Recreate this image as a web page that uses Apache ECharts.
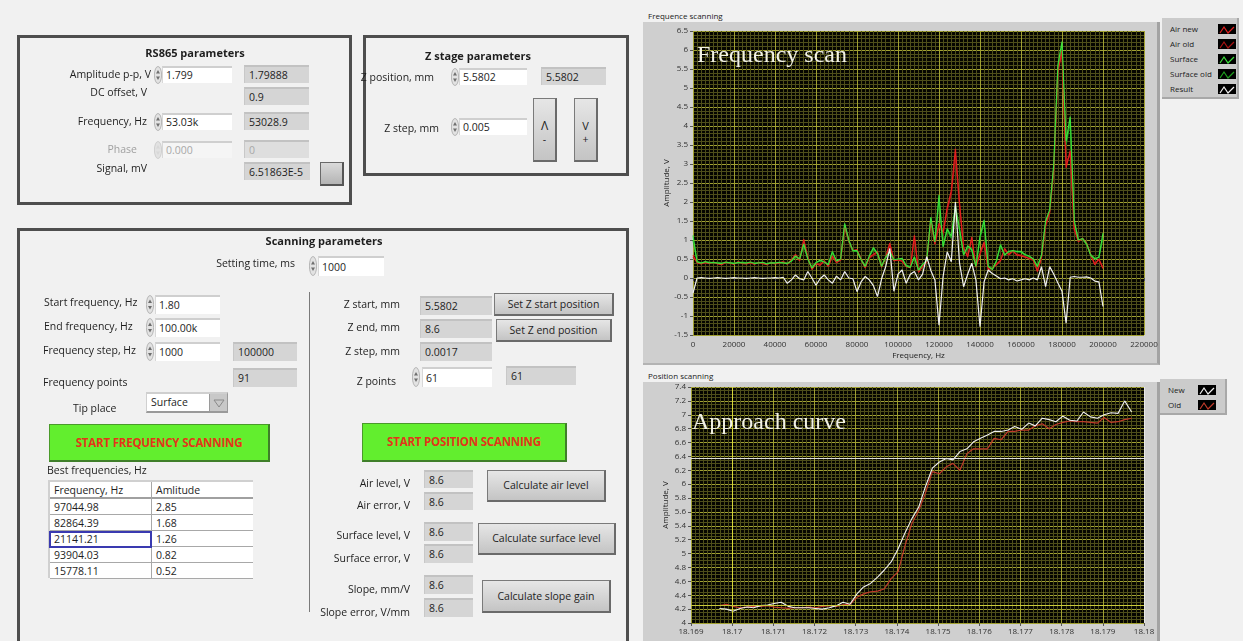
<!DOCTYPE html>
<html><head><meta charset="utf-8">
<script src="https://cdn.jsdelivr.net/npm/echarts@6/dist/echarts.min.js"></script>
<style>
html,body{margin:0;padding:0;width:1243px;height:641px;overflow:hidden;background:#f1f1f1;font-family:"Open Sans","Noto Sans",sans-serif;font-size:10.5px;color:#1e1e1e;}
#chart{position:absolute;left:0;top:0;width:1243px;height:641px;z-index:1;}
#frames,#panel{position:absolute;left:0;top:0;width:1243px;height:641px;}
#frames{z-index:0;}
#panel{z-index:2;pointer-events:none;}
</style></head><body>
<div id="frames"></div>
<div id="chart"></div>
<div id="panel"></div>
<script>
// ---------------- DATA ----------------
const freqHz = [0,2000,4000,6000,8000,10000,12000,14000,16000,18000,20000,22000,24000,26000,28000,30000,32000,34000,36000,38000,40000,42000,44000,46000,48000,50000,52000,54000,56000,58000,60000,62000,64000,66000,68000,70000,72000,74000,76000,78000,80000,82000,84000,86000,88000,90000,92000,94000,96000,98000,100000,102000,104000,106000,108000,110000,112000,114000,116000,118000,120000,122000,124000,126000,128000,130000,132000,134000,136000,138000,140000,142000,144000,146000,148000,150000,152000,154000,156000,158000,160000,162000,164000,166000,168000,170000,172000,174000,176000,178000,180000,182000,184000,186000,188000,190000,192000,194000,196000,198000,200000];
const airNew = [0.60,0.40,0.37,0.41,0.38,0.42,0.37,0.35,0.41,0.39,0.36,0.43,0.38,0.37,0.40,0.36,0.41,0.38,0.35,0.40,0.37,0.39,0.42,0.36,0.48,0.62,0.45,1.02,0.55,0.22,0.38,0.33,0.46,0.30,0.58,0.40,0.48,1.38,0.98,0.72,0.75,0.50,0.26,0.55,0.62,0.70,0.28,0.55,0.92,0.45,0.48,0.44,0.30,0.27,1.12,0.15,0.30,0.44,1.55,0.90,1.44,1.20,1.85,2.30,3.40,2.00,0.80,0.55,1.08,0.28,0.65,0.95,0.22,0.25,0.35,0.45,0.78,0.62,0.72,0.60,0.58,0.55,0.52,0.48,0.17,0.55,1.40,1.75,2.90,5.40,6.00,2.90,3.35,1.30,0.95,1.05,0.92,0.62,0.35,0.50,0.25];
const airOld = [0.55,0.42,0.39,0.40,0.41,0.39,0.40,0.38,0.42,0.40,0.38,0.41,0.40,0.39,0.42,0.38,0.40,0.41,0.37,0.41,0.39,0.40,0.43,0.38,0.46,0.58,0.47,0.95,0.52,0.25,0.40,0.36,0.44,0.33,0.55,0.42,0.46,1.30,0.95,0.70,0.72,0.48,0.28,0.52,0.60,0.66,0.30,0.52,0.88,0.47,0.46,0.45,0.32,0.29,1.05,0.18,0.32,0.42,1.48,0.88,1.38,1.15,1.78,2.20,3.20,1.90,0.78,0.58,1.02,0.30,0.62,0.90,0.25,0.27,0.37,0.47,0.74,0.60,0.70,0.62,0.60,0.57,0.50,0.46,0.20,0.52,1.35,1.70,2.80,5.55,5.85,3.05,3.25,1.25,0.98,1.02,0.90,0.60,0.38,0.48,0.28];
const surface = [1.12,0.42,0.39,0.43,0.40,0.41,0.39,0.38,0.42,0.40,0.38,0.41,0.40,0.39,0.42,0.38,0.40,0.41,0.37,0.40,0.39,0.41,0.40,0.38,0.45,0.58,0.50,0.90,0.50,0.26,0.40,0.47,0.42,0.35,0.70,0.45,0.50,1.44,1.00,0.72,0.72,0.48,0.30,0.58,0.80,0.65,0.30,0.55,0.70,0.48,0.50,0.52,0.32,0.28,0.56,0.20,0.35,0.46,1.60,0.95,2.18,0.82,1.30,1.10,1.90,1.30,0.60,0.85,0.75,0.30,1.10,1.53,0.30,0.22,0.45,0.88,0.60,0.70,0.72,0.70,0.70,0.62,0.58,0.50,0.30,0.60,1.50,1.80,3.00,5.60,6.22,3.60,4.25,1.50,1.00,1.04,0.90,0.60,0.50,0.55,1.18];
const surfaceOld = [1.00,0.44,0.40,0.41,0.42,0.40,0.41,0.39,0.40,0.41,0.39,0.40,0.42,0.40,0.40,0.39,0.41,0.40,0.38,0.41,0.40,0.40,0.41,0.39,0.44,0.55,0.48,0.86,0.52,0.28,0.41,0.45,0.43,0.36,0.66,0.44,0.49,1.36,0.96,0.70,0.70,0.50,0.32,0.55,0.76,0.63,0.32,0.53,0.68,0.47,0.49,0.50,0.34,0.30,0.54,0.22,0.36,0.45,1.52,0.92,2.05,0.85,1.25,1.05,1.80,1.25,0.62,0.80,0.72,0.32,1.05,1.45,0.32,0.25,0.44,0.84,0.62,0.68,0.70,0.69,0.68,0.60,0.56,0.50,0.32,0.58,1.45,1.76,2.90,5.50,6.05,3.50,4.10,1.45,0.98,1.02,0.88,0.62,0.52,0.54,1.05];
const result = [-0.40,0.00,0.01,0.00,-0.01,0.00,0.01,0.00,-0.01,0.00,0.01,0.00,0.00,-0.01,0.00,0.01,0.00,-0.01,0.00,0.00,0.01,0.00,0.02,-0.14,-0.05,0.08,-0.02,-0.05,0.17,0.00,-0.19,-0.02,0.08,-0.05,-0.14,0.05,-0.05,0.17,0.00,-0.02,-0.36,-0.10,0.04,-0.05,-0.20,-0.49,-0.02,0.30,0.78,-0.35,0.10,0.21,-0.14,0.10,0.17,-0.05,0.10,0.56,0.20,-0.05,-1.24,0.04,0.69,0.43,2.00,0.40,-0.23,0.10,0.39,-0.05,-1.28,-0.10,0.21,0.12,0.05,-0.02,0.00,-0.05,-0.02,-0.08,-0.05,-0.02,-0.05,0.00,-0.05,0.30,-0.23,0.30,0.10,-0.13,-0.35,-1.19,0.02,0.04,0.02,0.02,0.03,0.00,-0.08,-0.10,-0.75];

const zPos = [18.16969,18.16986,18.17002,18.17019,18.17036,18.17052,18.17069,18.17086,18.17102,18.17119,18.17136,18.17152,18.17169,18.17186,18.17203,18.17219,18.17236,18.17253,18.17269,18.17286,18.17303,18.17319,18.17336,18.17353,18.17369,18.17386,18.17403,18.17419,18.17436,18.17453,18.17469,18.17486,18.17503,18.17520,18.17536,18.17553,18.17570,18.17586,18.17603,18.17620,18.17636,18.17653,18.17670,18.17686,18.17703,18.17720,18.17736,18.17753,18.17770,18.17786,18.17803,18.17820,18.17837,18.17853,18.17870,18.17887,18.17903,18.17920,18.17937,18.17953,18.17970];
const newAmp = [4.21,4.20,4.17,4.21,4.23,4.22,4.25,4.26,4.28,4.30,4.24,4.22,4.22,4.22,4.21,4.20,4.22,4.25,4.30,4.27,4.42,4.52,4.57,4.66,4.76,4.88,5.07,5.29,5.50,5.67,5.96,6.23,6.32,6.37,6.35,6.47,6.51,6.61,6.66,6.71,6.76,6.76,6.78,6.83,6.79,6.88,6.84,6.95,6.93,6.90,6.98,6.92,6.91,7.04,6.97,6.95,7.00,7.03,7.02,7.20,7.04];
const oldAmp = [4.25,4.27,4.24,4.22,4.23,4.24,4.24,4.25,4.23,4.22,4.21,4.22,4.22,4.23,4.22,4.24,4.25,4.24,4.26,4.27,4.37,4.42,4.45,4.46,4.49,4.64,4.74,5.10,5.43,5.62,5.87,6.18,6.15,6.25,6.30,6.20,6.44,6.51,6.51,6.51,6.66,6.64,6.76,6.76,6.78,6.78,6.84,6.87,6.80,6.86,6.89,6.91,6.90,6.90,6.89,6.88,6.96,6.89,6.90,6.93,6.95];
const cursorX = [18.1729, 18.17537];
const cursorY = [6.385, 4.255];

const freqNames = ['Air new','Air old','Surface','Surface old','Result'];
const posNames = ['New','Old'];
const bestFreq = ['97044.98','82864.39','21141.21','93904.03','15778.11'];
const bestAmp = ['2.85','1.68','1.26','0.82','0.52'];

// ---------------- CHART FRAMES (HTML) ----------------
const F = document.getElementById('frames');
function fr(css, text){const e=document.createElement('div');e.style.cssText='position:absolute;'+css;if(text!=null)e.textContent=text;F.appendChild(e);return e;}
fr('left:643px;top:22px;width:517px;height:343px;background:#cfcfcf;border-right:3px solid #a3a3a3;border-bottom:2px solid #b3b3b3;box-sizing:border-box;');
fr('left:648px;top:10px;font-size:8px;line-height:11px;color:#222;','Frequence scanning');
fr('left:643px;top:382px;width:517px;height:270px;background:#cfcfcf;border-right:3px solid #a3a3a3;box-sizing:border-box;');
fr('left:648px;top:370px;font-size:8px;line-height:11px;color:#222;','Position scanning');

function legendBox(x,y,w,rowH,names,colors,iconX){
  fr(`left:${x}px;top:${y}px;width:${w}px;height:${names.length*rowH+6}px;background:#cbcbcb;border-right:2px solid #a8a8a8;border-bottom:2px solid #a8a8a8;box-sizing:border-box;`);
  names.forEach((n,i)=>{
    const cy=y+3+rowH*i+rowH/2;
    fr(`left:${x+8}px;top:${cy-6}px;font-size:8px;line-height:12px;color:#222;`,n);
    const ic=fr(`left:${iconX}px;top:${cy-5}px;width:18px;height:10px;background:#000;`);
    ic.innerHTML=`<svg width="18" height="10"><polyline points="2,8 6,2 10,8 16,2" fill="none" stroke="${colors[i]}" stroke-width="1.2"/></svg>`;
  });
}
const freqColors = ['#e42020','#a81212','#3ae03a','#1f9f1f','#f0f0f0'];
const posColors = ['#f0f0f0','#c03a2a'];
legendBox(1162,18,77,15,freqNames,freqColors,1218);
legendBox(1160,379,67,15,posNames,posColors,1198);

// ---------------- ECHARTS ----------------
const chart = echarts.init(document.getElementById('chart'), null, {renderer:'canvas'});
const major = '#a0a032', minor = '#4e4e1a';
const font = '"Open Sans","Noto Sans",sans-serif';
function xAx(grid, min, max, interval, name, margin, gap){
  return {type:'value', gridIndex:grid, min, max, interval,
    name, nameLocation:'middle', nameGap:gap, nameTextStyle:{fontSize:8,color:'#222',fontFamily:font},
    axisLine:{show:false}, axisTick:{show:true,length:3,lineStyle:{color:'#555'}},
    axisLabel:{fontSize:8,color:'#333',margin,fontFamily:font,formatter:v=>String(+v.toFixed(6))},
    splitLine:{show:true,lineStyle:{color:major,width:1}},
    minorTick:{show:false,splitNumber:10},
    minorSplitLine:{show:true,lineStyle:{color:minor,width:1}}};
}
function yAx(grid, min, max, interval, split, gap){
  return {type:'value', gridIndex:grid, min, max, interval,
    name:'Amplitude, V', nameLocation:'middle', nameGap:gap, nameRotate:90, nameTextStyle:{fontSize:8,color:'#222',fontFamily:font},
    axisLine:{show:false}, axisTick:{show:true,length:3,lineStyle:{color:'#555'}},
    axisLabel:{fontSize:8,color:'#333',margin:5,fontFamily:font,formatter:v=>String(+v.toFixed(6))},
    splitLine:{show:true,lineStyle:{color:major,width:1}},
    minorTick:{show:false,splitNumber:split},
    minorSplitLine:{show:true,lineStyle:{color:minor,width:1}}};
}
function zip(xs, ys){return xs.map((x,i)=>[x,ys[i]]);}
function line(name, xs, ys, color, gi, w){
  return {name, type:'line', xAxisIndex:gi, yAxisIndex:gi, data:zip(xs,ys), symbol:'none', silent:true,
    lineStyle:{color, width:w||1.2}, itemStyle:{color}};
}
const freqSeriesData = [airNew, airOld, surface, surfaceOld, result];
const drawOrder = [1,3,0,2,4];
const series = drawOrder.map(i=>line(freqNames[i], freqHz, freqSeriesData[i], freqColors[i], 0, 1.2));
series.push(line(posNames[1], zPos, oldAmp, posColors[1], 1, 1.2));
const newS = line(posNames[0], zPos, newAmp, posColors[0], 1, 1.1);
newS.markLine = {silent:true, symbol:'none', label:{show:false}, animation:false,
  lineStyle:{type:'solid', width:1},
  data:[{xAxis:cursorX[0], lineStyle:{color:'#d6d63a',type:'solid',width:1}},
        {xAxis:cursorX[1], lineStyle:{color:'#e8e8e8',type:'solid',width:1}},
        {yAxis:cursorY[0], lineStyle:{color:'#dcdcdc',type:'solid',width:1}},
        {yAxis:cursorY[1], lineStyle:{color:'#c8c83a',type:'solid',width:1}}]};
series.push(newS);

chart.setOption({
  animation:false,
  grid:[{left:693, top:31, width:451, height:304, show:true, backgroundColor:'#050500', borderWidth:0, containLabel:false, outerBoundsMode:'none'},
        {left:691, top:387, width:453, height:236, show:true, backgroundColor:'#050500', borderWidth:0, containLabel:false, outerBoundsMode:'none'}],
  xAxis:[xAx(0,0,220000,20000,'Frequency, Hz',6,17), xAx(1,18.169,18.18,0.001,'Position, mm',5,19)],
  yAxis:[yAx(0,-1.5,6.5,0.5,5,22), yAx(1,4,7.4,0.2,4,21)],
  series,
  graphic:[
    {type:'text', left:697, top:44, silent:true, z:100, style:{text:'Frequency scan', font:'24px "Liberation Serif", serif', fill:'#f2f2e6'}},
    {type:'text', left:692, top:411, silent:true, z:100, style:{text:'Approach curve', font:'24px "Liberation Serif", serif', fill:'#f2f2e6'}}
  ]
});

// ---------------- CONTROL PANEL (HTML) ----------------
const P = document.getElementById('panel');
function el(css, text){const e=document.createElement('div');e.style.cssText='position:absolute;box-sizing:border-box;'+css;if(text!=null)e.textContent=text;P.appendChild(e);return e;}
function lab(t,x,yc,al,extra){
  let css;
  if(al==='r') css=`left:${x-240}px;width:240px;text-align:right;`;
  else if(al==='c') css=`left:${x-150}px;width:300px;text-align:center;`;
  else css=`left:${x}px;`;
  return el(css+`top:${yc-8}px;height:16px;line-height:16px;white-space:nowrap;`+(extra||''),t);
}
function ctl(t,x,y,w,h,extra){return el(`left:${x}px;top:${y}px;width:${w}px;height:${h}px;line-height:${h-2}px;background:#fff;border-top:2px solid #cfcfcf;border-left:1px solid #d8d8d8;padding-left:3px;white-space:nowrap;`+(extra||''),t);}
function ind(t,x,y,w,h,extra){return el(`left:${x}px;top:${y}px;width:${w}px;height:${h}px;line-height:${h-2}px;background:#d5d5d5;border-top:2px solid #c2c2c2;border-left:1px solid #c8c8c8;padding-left:4px;white-space:nowrap;`+(extra||''),t);}
function spin(x,y,h,faded){
  const e=el(`left:${x}px;top:${y}px;width:8px;height:${h}px;`);
  const c=faded?'#c8c8c8':'#a8a8a8', a=faded?'#d8d8d8':'#6e6e6e';
  e.innerHTML=`<svg width="8" height="${h}"><ellipse cx="4" cy="${h/2}" rx="3.6" ry="${h/2-0.5}" fill="#e2e2e2" stroke="${c}" stroke-width="0.8"/><path d="M2,${h/2-1.5} L4,${h/2-5} L6,${h/2-1.5}Z" fill="${a}"/><path d="M2,${h/2+1.5} L4,${h/2+5} L6,${h/2+1.5}Z" fill="${a}"/></svg>`;
  return e;
}
function btn(t,x,y,w,h,extra){return el(`left:${x}px;top:${y}px;width:${w}px;height:${h}px;line-height:${h-3}px;text-align:center;background:linear-gradient(#e6e6e6,#c4c4c4);border:1px solid #7a7a7a;border-right:2px solid #6a6a6a;border-bottom:2px solid #6a6a6a;white-space:nowrap;`+(extra||''),t);}
function gbtn(t,x,y,w,h){return el(`left:${x}px;top:${y}px;width:${w}px;height:${h}px;line-height:${h-3}px;text-align:center;background:#62ee2e;border:1px solid #4a9a2a;border-right:2px solid #3f7f2a;border-bottom:2px solid #3f7f2a;color:#e2361a;font-weight:bold;font-size:11.5px;letter-spacing:-0.2px;white-space:nowrap;`,t);}
function box(x,y,w,h){return el(`left:${x}px;top:${y}px;width:${w}px;height:${h}px;border:3px solid #4e4e4e;`);}

// RS865 parameters
box(17,35,335,170);
lab('RS865 parameters',195,53,'c','font-weight:bold;font-size:11px;');
lab('Amplitude p-p, V',151,74,'r'); spin(154,66,18); ctl('1.799',162,66,70,17);
ind('1.79888',244,65,65,18);
lab('DC offset, V',147,92,'r'); ind('0.9',244,87,65,18);
lab('Frequency, Hz',147,121,'r'); spin(154,113,18); ctl('53.03k',162,113,70,17);
ind('53028.9',244,112,65,18);
lab('Phase',137,149,'r','color:#a0a0a0;'); spin(154,141,18,true); ctl('0.000',162,141,70,17,'color:#a8a8a8;background:#f5f5f5;');
ind('0',244,140,65,18,'color:#a8a8a8;background:#dedede;');
lab('Signal, mV',147,168,'r'); ind('6.51863E-5',244,162,66,18);
el('left:320px;top:162px;width:24px;height:24px;background:linear-gradient(#dadada,#b4b4b4);border:1px solid #6a6a6a;border-right:2px solid #555;border-bottom:2px solid #555;');

// Z stage parameters
box(363,35,266,141);
lab('Z stage parameters',478,56,'c','font-weight:bold;font-size:11px;');
lab('Z position, mm',434,77,'r'); spin(451,68,18); ctl('5.5802',459,68,68,17);
ind('5.5802',541,67,65,18);
lab('Z step, mm',439,128,'r'); spin(451,118,18); ctl('0.005',459,118,68,17);
const up=btn('',533,98,24,64); up.innerHTML='<div style="line-height:14px;padding-top:20px;font-size:12px;">&#923;</div><div style="line-height:12px;">-</div>';
const dn=btn('',574,98,24,64); dn.innerHTML='<div style="line-height:14px;padding-top:20px;font-size:11px;">V</div><div style="line-height:12px;">+</div>';

// Scanning parameters
box(17,228,612,430);
lab('Scanning parameters',324,241,'c','font-weight:bold;font-size:11px;');
lab('Setting time, ms',295,263,'r'); spin(309,256,20); ctl('1000',318,256,66,20);
el('left:309px;top:292px;width:1px;height:320px;background:#7a7a7a;');
lab('Start frequency, Hz',44,302,'l'); spin(146,295,19); ctl('1.80',155,295,65,19);
lab('End frequency, Hz',44,326,'l'); spin(146,318,19); ctl('100.00k',155,318,65,19);
lab('Frequency step, Hz',43,350,'l'); spin(146,342,19); ctl('1000',155,342,65,19);
ind('100000',233,342,64,19);
lab('Frequency points',43,382,'l'); ind('91',233,368,64,19);
lab('Tip place',73,408,'l');
const dd=el('left:146px;top:392px;width:82px;height:21px;line-height:17px;background:#fff;border-top:2px solid #cfcfcf;border-left:1px solid #d0d0d0;border-right:1px solid #9a9a9a;border-bottom:2px solid #9a9a9a;padding-left:4px;','Surface');
const ar=el('left:209px;top:394px;width:18px;height:17px;background:#c8c8c8;border-left:1px solid #9a9a9a;');
ar.innerHTML='<svg width="18" height="17"><path d="M4,6 L14,6 L9,13 Z" fill="none" stroke="#8a8a8a" stroke-width="1"/></svg>';
gbtn('START FREQUENCY SCANNING',49,424,221,38);
lab('Best frequencies, Hz',47,470,'l');
// table
el('left:48px;top:480px;width:205px;height:98px;background:#fff;border-top:2px solid #d0d0d0;border-left:2px solid #d0d0d0;');
el('left:50px;top:482px;width:203px;height:17px;border-bottom:2px solid #a0a0a0;');
lab('Frequency, Hz',54,490,'l'); lab('Amlitude',156,490,'l');
el('left:151px;top:482px;width:1px;height:96px;background:#a8a8a8;');
bestFreq.forEach((f,i)=>{
  const y=499+i*16;
  el(`left:50px;top:${y+15}px;width:203px;height:1px;background:#a8a8a8;`);
  lab(f,54,y+8,'l'); lab(bestAmp[i],156,y+8,'l');
});
el('left:49px;top:531px;width:103px;height:17px;border:2px solid #3a3ab0;');

// right column
lab('Z start, mm',400,304,'r'); ind('5.5802',420,296,72,19); btn('Set Z start position',494,293,120,23);
lab('Z end, mm',400,327,'r'); ind('8.6',420,319,72,19); btn('Set Z end position',496,319,116,23);
lab('Z step, mm',400,351,'r'); ind('0.0017',420,342,72,19);
lab('Z points',396,381,'r'); spin(412,367,20); ctl('61',422,367,70,20); ind('61',506,366,70,19);
gbtn('START POSITION SCANNING',362,423,205,39);
lab('Air level, V',410,483,'r'); ind('8.6',424,470,49,18);
lab('Air error, V',410,505,'r'); ind('8.6',424,492,49,18);
btn('Calculate air level',487,470,119,32);
lab('Surface level, V',410,535,'r'); ind('8.6',424,522,49,19);
lab('Surface error, V',410,558,'r'); ind('8.6',424,544,49,19);
btn('Calculate surface level',478,523,138,32);
lab('Slope, mm/V',410,589,'r'); ind('8.6',424,575,49,19);
lab('Slope error, V/mm',410,612,'r'); ind('8.6',424,598,49,19);
btn('Calculate slope gain',482,580,129,33);
</script>
</body></html>
